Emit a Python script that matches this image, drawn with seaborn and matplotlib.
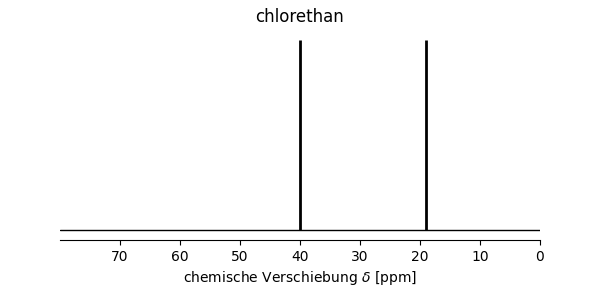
import matplotlib
matplotlib.use("Agg")
import matplotlib.pyplot as plt
import seaborn as sns
import pandas as pd

title = "chlorethan"
peak_shifts = [40.0, 19.0]
peak_heights = [1.0, 1.0]
baseline_x = [80.0, 0.0]
baseline_y = [0.0, 0.0]
tick_values = [70, 60, 50, 40, 30, 20, 10, 0]

sns.set_style("white", {"text.color": "black", "axes.labelcolor": "black",
                        "xtick.color": "black", "ytick.color": "black",
                        "axes.edgecolor": "black"})
plt.rcParams['font.family'] = ['DejaVu Sans']

fig = plt.figure(figsize=(6, 3), dpi=100)
ax = fig.add_axes([0.1, 0.2, 0.8, 0.7])

base = pd.DataFrame({"x": baseline_x, "y": baseline_y})
sns.lineplot(data=base, x="x", y="y", ax=ax, color="black", linewidth=1)
ax.vlines(peak_shifts, 0, peak_heights, colors="black", linewidth=2)

ax.set_xlim(80, 0)
ax.set_ylim(-0.05, 1.05)
ax.set_xticks(tick_values)
ax.set_xticklabels([str(t) for t in tick_values])
ax.set_yticks([])
ax.set_ylabel("")
ax.set_xlabel(r"chemische Verschiebung $\delta$ [ppm]", color="black")
ax.set_title(title, color="black")
for s in ["left", "top", "right"]:
    ax.spines[s].set_visible(False)
ax.spines["bottom"].set_color("black")
ax.tick_params(axis="x", bottom=True, direction="out", length=3.5, width=0.8,
               colors="black", labelcolor="black")

fig.savefig("out.png", dpi=100)
